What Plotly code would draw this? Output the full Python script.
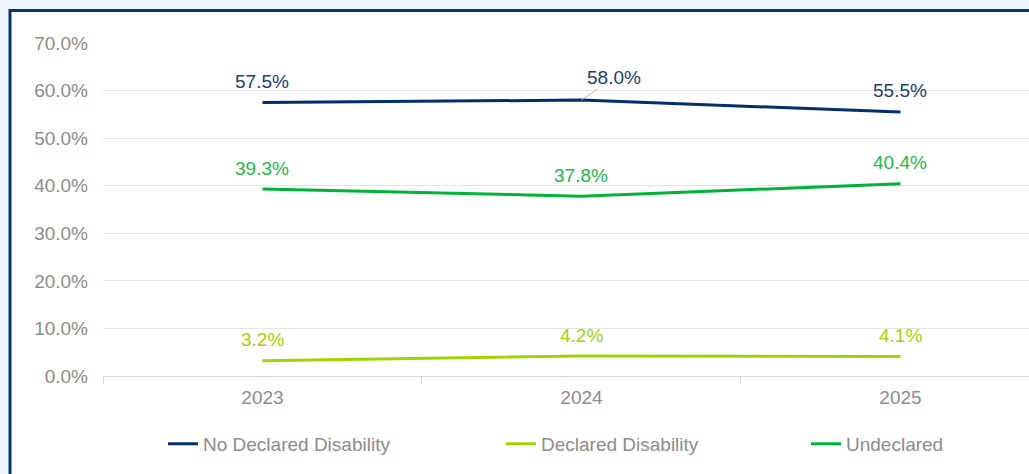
import plotly.graph_objects as go

# Share of respondents by disability declaration, per year
years = ["2023", "2024", "2025"]
no_declared = [57.5, 58.0, 55.5]
declared = [3.2, 4.2, 4.1]
undeclared = [39.3, 37.8, 40.4]

series_names = ["No Declared Disability", "Declared Disability", "Undeclared"]
series_values = [no_declared, declared, undeclared]
line_colors = ["#002F6C", "#A4D200", "#00B336"]
label_colors = ["#1D3D74", "#A6D100", "#1FB848"]
legend_ids = ["legend", "legend2", "legend3"]
legend_x = [0.0648, 0.4298, 0.7592]

FONT = "Liberation Sans, Arial, sans-serif"
W, H = 1029, 474
M_L, M_T, M_B = 103, 43, 98
plot_w = W - M_L
plot_h = H - M_T - M_B

fig = go.Figure()
for name, vals, col, lg in zip(series_names, series_values, line_colors, legend_ids):
    fig.add_trace(go.Scatter(
        x=years, y=vals, name=name, mode="lines",
        line=dict(color=col, width=3),
        legend=lg, hoverinfo="skip",
    ))

# Value labels above each point; the 2024 value of the first series sits
# off to the side with a thin leader line. Category positions are given by index.
annotations = []
for si, (vals, tcol) in enumerate(zip(series_values, label_colors)):
    for xi, v in enumerate(vals):
        if si == 0 and xi == 1:
            annotations.append(dict(
                x=xi, y=v, xref="x", yref="y", text=f"{v:.1f}%", showarrow=True,
                arrowhead=0, arrowwidth=1, arrowcolor="#B3B3B3",
                ax=33, ay=-23, standoff=0,
                font=dict(family=FONT, size=19, color=tcol),
            ))
        else:
            annotations.append(dict(
                x=xi, y=v, xref="x", yref="y", text=f"{v:.1f}%", showarrow=False,
                yshift=21, font=dict(family=FONT, size=19, color=tcol),
            ))

legend_common = dict(
    orientation="h", yanchor="middle", y=-0.204, xanchor="left",
    font=dict(family=FONT, size=19, color="#8C8C8C"),
    bgcolor="rgba(0,0,0,0)", itemwidth=30,
)

layout_legends = {}
for lg, lx in zip(legend_ids, legend_x):
    layout_legends[lg] = dict(legend_common, x=lx)

# White panel with a navy frame on a pale blue page
frame = dict(
    type="rect", xref="paper", yref="paper", layer="below",
    x0=(10 - M_L) / plot_w, x1=1.2,
    y0=-0.6, y1=1 + (M_T - 10.5) / plot_h,
    fillcolor="white", line=dict(color="#0B356B", width=3),
)

fig.update_layout(
    width=W, height=H,
    margin=dict(l=M_L, r=0, t=M_T, b=M_B, pad=0),
    paper_bgcolor="#EDF4FC", plot_bgcolor="rgba(0,0,0,0)",
    font=dict(family=FONT, size=19, color="#8C8C8C"),
    showlegend=True,
    shapes=[frame],
    annotations=annotations,
    xaxis=dict(
        type="category", range=[-0.5, 2.403],
        tickson="boundaries", ticks="outside", ticklen=7,
        tickcolor="#D9D9D9", tickwidth=1,
        showline=True, linecolor="#D9D9D9", linewidth=1,
        showgrid=False, zeroline=False, ticklabelstandoff=4,
        tickfont=dict(family=FONT, size=19, color="#8C8C8C"),
    ),
    yaxis=dict(
        range=[0, 70], dtick=10, tickformat=".1f", ticksuffix="%",
        showgrid=True, gridcolor="#E5E5E5", gridwidth=1,
        zeroline=False, showline=False, ticks="",
        ticklabelstandoff=14,
        tickfont=dict(family=FONT, size=19, color="#8C8C8C"),
    ),
    **layout_legends,
)

fig.write_html("out.html")
